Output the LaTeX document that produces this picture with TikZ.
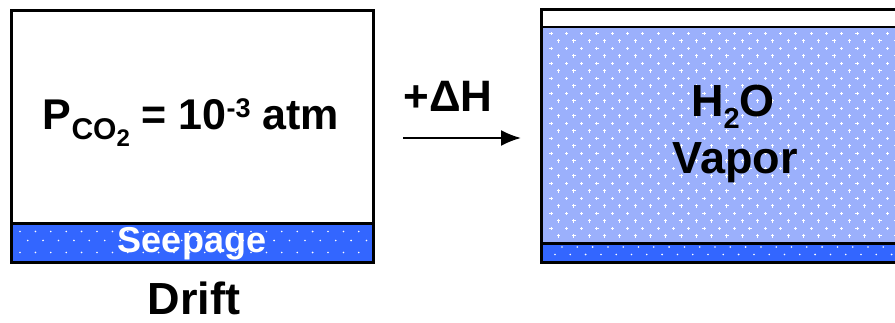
\documentclass[tikz,border=0pt]{standalone}
\usepackage{fontspec}
\usetikzlibrary{arrows.meta}
\setmainfont{Liberation Sans}
\definecolor{seep}{RGB}{51,102,255}
\definecolor{vapor}{RGB}{155,176,252}
\newcommand{\fsz}[1]{\fontsize{#1}{#1}\selectfont}
\begin{document}
\begin{tikzpicture}[x=1pt,y=-1pt,
  boxline/.style={draw=black,line width=3pt},
  lbl/.style={font=\fsz{45}\bfseries,inner sep=0pt,align=center,anchor=base}]
\useasboundingbox (0,0) rectangle (895,323);
% ---------- left box ----------
\fill[seep] (11,224) rectangle (374,262);
\foreach \x in {0,...,23}{
  \fill[white] ({20+15.4*\x},231.5) circle (0.9);
  \fill[white] ({27.7+15.4*\x},240.5) circle (0.9);
  \fill[white] ({20+15.4*\x},252.5) circle (0.9);
}
\draw[boxline] (11.5,10.5) rectangle (373.5,262.5);
\draw[line width=2.5pt] (11.5,223.5) -- (373.5,223.5);
\node[lbl,font=\fsz{43}\bfseries] (pco) at (191,130) {P\raisebox{-10pt}{\fsz{30}CO\raisebox{-7pt}{\fsz{24}2}} = 10\raisebox{12pt}{\fsz{27}-3} atm};
\node[lbl,text=white,font=\fsz{36}\bfseries] (seepl) at (192,253) {Seepage};
\node[lbl] (drift) at (194,315) {Drift};
% ---------- arrow ----------
\coordinate (a1) at (403,138);
\coordinate (a2) at (521,138);
\draw[line width=2pt,-{Latex[length=20pt,width=16pt]}] (a1) -- (a2);
\node[lbl,font=\fsz{44}\bfseries] (dh) at (448,112) {+ΔH};
% ---------- right box ----------
\fill[vapor] (542,28) rectangle (896,243);
\foreach \r in {0,...,28}{
  \pgfmathsetmacro{\off}{mod(\r,2)==0 ? 0 : 7.6}
  \foreach \x in {0,...,23}{
    \fill[white] ({551+\off+15.3*\x-1.6},{33.5+7.5*\r-0.5}) rectangle +(3.2,1);
    \fill[white] ({551+\off+15.3*\x-0.5},{33.5+7.5*\r-1.6}) rectangle +(1,3.2);
  }
}
\fill[seep] (542,245) rectangle (896,261);
\foreach \x in {0,...,23}{
  \fill[white] ({562+15.3*\x},247) circle (0.9);
  \fill[white] ({555+15.3*\x},254.5) circle (0.9);
}
\draw[boxline] (900,9.5) -- (541.5,9.5) -- (541.5,262.5) -- (900,262.5);
\draw[line width=2pt] (542,27.5) -- (900,27.5);
\draw[line width=2.5pt] (542,243.5) -- (900,243.5);
\node[lbl] (h2o) at (733,117) {H\raisebox{-12pt}{\fsz{29}2}O};
\node[lbl] (vap) at (735,174) {Vapor};
\end{tikzpicture}
\end{document}
